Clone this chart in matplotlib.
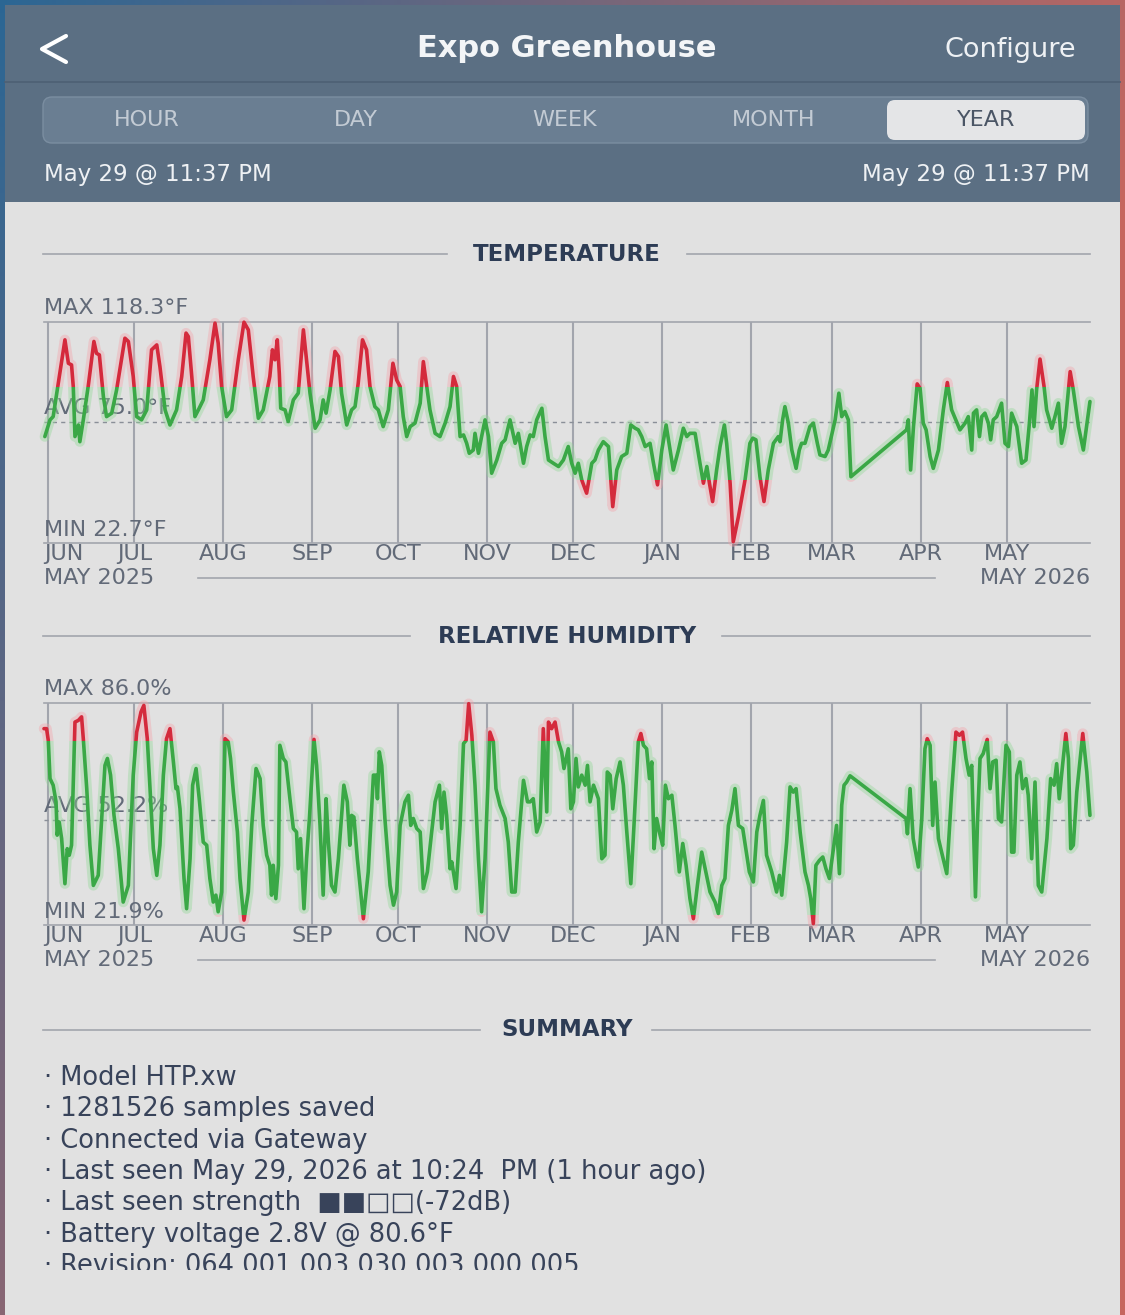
import numpy as np
import matplotlib
matplotlib.use("Agg")
import matplotlib.pyplot as plt
from matplotlib.patches import Rectangle, FancyBboxPatch
from matplotlib.transforms import Bbox, TransformedBbox

W, H = 1125, 1315
plt.rcParams["font.family"] = ["DejaVu Sans"]

# ---- data (x = days after May 29 2025) ----
MONTHS = ["JUN", "JUL", "AUG", "SEP", "OCT", "NOV", "DEC", "JAN", "FEB", "MAR", "APR", "MAY"]
MONTH_DAY = [3, 33, 64, 95, 125, 156, 186, 217, 248, 276, 307, 337]
X_RANGE = (1.4, 366.05)
START_LBL, END_LBL = "MAY 2025", "MAY 2026"

temp_day = [1.8, 3.6, 4.7, 8.8, 10.0, 11.1, 11.7, 12.3, 13.5, 14.0, 15.2, 16.9, 18.9, 19.8, 20.8,
            22.2, 23.3, 25.1, 26.8, 29.7, 30.9, 32.6, 33.8, 35.5, 37.3, 39.0, 40.8, 41.9, 43.7, 45.4,
            47.7, 49.5, 51.0, 51.8, 53.0, 54.1, 55.3, 57.0, 59.3, 61.1, 62.2, 63.4, 65.1, 66.9, 69.2,
            71.2, 72.7, 74.4, 76.2, 77.9, 80.2, 81.1, 82.0, 82.8, 83.5, 84.0, 85.5, 86.6, 88.4, 90.1,
            91.9, 93.0, 94.2, 96.0, 97.7, 98.8, 99.8, 101.2, 102.9, 104.1, 105.2, 107.0, 108.7, 109.9,
            111.0, 112.5, 113.9, 115.1, 116.8, 118.0, 119.7, 121.5, 123.1,
            124.4, 125.6, 126.7, 127.9, 129.1, 130.8, 132.6, 133.7, 134.9, 136.0, 137.8, 139.5, 141.3,
            143.0, 144.2, 145.3, 146.5, 147.7, 148.8, 149.7, 151.1, 151.7, 152.9, 154.0, 155.2, 156.4,
            157.5, 159.3, 161.0, 162.2, 163.9, 165.7, 166.8, 168.6, 169.7, 170.9, 172.0, 173.2, 175.0,
            176.1, 177.3, 179.0, 180.8, 182.5, 184.2, 185.4, 186.6, 187.7, 188.9, 190.6, 192.4, 193.5,
            194.7, 196.4, 198.2, 199.7, 201.1, 202.8, 204.6, 206.0, 207.5, 208.6, 209.8, 211.0, 212.7,
            213.9, 215.3, 216.8, 218.3, 219.7, 220.8, 222.6, 224.3, 225.5, 226.6, 228.4, 230.1, 231.3,
            232.5, 233.4, 234.5, 235.9, 237.1, 238.6, 239.4, 240.6, 241.7, 243.5,
            245.8, 247.5, 248.5, 249.6, 251.0, 252.4, 253.9, 255.7, 257.4, 258.0, 258.9, 259.7, 260.9,
            262.1, 263.6, 264.7, 265.5, 266.7, 268.4, 269.6, 271.0, 271.9, 273.7, 274.8, 277.2, 278.5,
            279.5, 280.6, 281.8, 282.7, 302.1, 302.7, 303.5, 304.5, 305.8, 306.8, 307.9, 308.9, 310.3,
            311.4, 313.2, 314.9, 316.3, 317.8, 320.7, 322.5, 323.6, 324.8, 325.4, 326.5, 327.5, 328.3,
            329.4, 330.6, 331.4, 332.3, 333.5, 335.2, 336.4, 337.6, 338.7, 340.5, 342.2, 343.7, 344.9,
            345.8, 346.5, 347.4, 348.6, 350.0, 350.9, 352.7, 353.8, 355.0, 356.1, 357.3, 359.1, 360.2,
            362.0, 363.7, 366.0]
temp_f = [68.7, 75.9, 77.3, 110.4, 100.3, 99.6, 90.3, 68.7, 73.7, 66.5, 75.9, 90.3, 109.7, 104.6, 103.9,
          85.9, 77.3, 78.8, 88.8, 111.1, 109.7, 94.6, 77.3, 75.9, 80.2, 106.1, 108.2, 98.9, 80.2, 73.7,
          80.2, 94.6, 113.3, 111.8, 94.6, 77.3, 80.2, 84.5, 101.8, 117.6, 109.0, 90.3, 77.3, 80.2, 101.8,
          118.0, 114.7, 94.6, 76.6, 80.2, 94.6, 106.1, 101.8, 110.4, 96.0, 80.9, 80.2, 75.2, 84.5, 87.4,
          114.7, 101.8, 87.4, 72.3, 75.9, 84.5, 78.8, 88.8, 105.4, 103.2, 87.4, 73.7, 80.2, 81.6,
          91.7, 110.4, 106.1, 90.3, 81.6, 80.2, 73.0, 80.2, 100.3,
          93.1, 90.3, 77.3, 68.7, 73.0, 74.5, 83.1, 101.0, 90.3, 80.2, 70.1, 68.7, 74.5,
          81.6, 94.6, 90.3, 68.7, 69.4, 65.8, 61.5, 62.9, 70.1, 61.5, 68.7, 75.9, 68.7,
          52.9, 58.6, 65.8, 67.3, 75.9, 65.8, 70.1, 57.2, 64.4, 69.4, 68.7, 75.9, 80.9,
          68.7, 58.6, 57.2, 55.8, 58.6, 64.4, 57.2, 52.9, 57.2, 50.0, 44.3, 57.2, 58.6,
          62.9, 66.5, 64.4, 38.5, 54.3, 60.1, 61.5, 73.7, 72.3, 71.6, 68.7, 64.4, 65.8,
          57.2, 47.9, 62.9, 73.7, 62.9, 54.3, 62.9, 72.3, 68.7, 70.1, 70.1, 57.2, 48.6,
          55.8, 48.6, 40.7, 54.3, 64.4, 73.7, 65.8, 48.6, 23.4, 34.2,
          50.0, 65.8, 68.0, 67.3, 51.4, 40.7, 54.3, 65.8, 68.7, 66.5, 75.9, 81.6, 74.5,
          62.9, 55.0, 62.9, 65.8, 65.8, 73.0, 74.5, 65.8, 60.8, 60.1, 62.9, 75.9, 87.4,
          77.3, 79.5, 75.9, 51.4, 71.6, 75.9, 54.3, 73.0, 91.4, 89.5, 74.5, 71.6, 60.1,
          55.0, 62.9, 80.2, 92.0, 80.2, 71.6, 74.5, 77.3, 62.9, 78.8, 80.2, 68.7, 77.3,
          78.8, 74.5, 67.3, 75.9, 77.3, 83.1, 65.8, 64.4, 78.8, 73.0, 57.2, 58.6, 74.5,
          88.8, 73.0, 88.8, 102.1, 90.3, 80.2, 72.3, 77.3, 83.1, 65.8, 73.0, 96.7, 88.8,
          73.0, 62.9, 83.8]
TEMP_MIN, TEMP_AVG, TEMP_MAX = 22.7, 75.0, 118.3
TEMP_LO, TEMP_HI = 50, 90

hum_day = [1.5, 2.4, 3.0, 3.6, 4.7, 5.7, 6.1, 6.8, 7.65, 8.8, 9.6, 10.3, 11.1, 12.3, 13.5,
           14.6, 15.2, 16.4, 17.5, 18.7, 20.4, 21.6, 22.75, 23.6, 24.7, 25.9, 27.4, 29.1, 30.9, 32.6,
           33.8, 35.3, 36.3, 37.5, 38.7, 39.6, 40.8, 41.9, 43.1, 44.2, 45.4, 46.6, 47.5, 48.0, 48.9,
           50.3, 51.2, 52.4, 53.3, 54.5, 55.6, 57.0, 58.2, 59.3, 60.5, 61.4, 62.2, 63.4, 64.6, 65.7,
           66.5, 67.5, 68.9, 69.8, 71.2, 72.7, 73.9, 75.4, 76.8, 77.9, 79.1, 80.2, 80.8, 81.4, 82.3,
           83.2, 83.7, 84.9, 85.8, 87.2, 88.4, 89.5, 90.1, 90.9, 92.1, 93.0, 94.0, 95.6, 96.5, 97.7,
           98.8, 99.8, 100.6, 101.7, 102.9, 104.1, 106.0, 107.2, 108.1, 108.7, 109.5, 110.7, 112.8,
           114.5, 116.3, 117.2, 117.7, 118.35, 119.2, 120.3, 122.1,
           123.3, 124.4, 125.6, 127.3, 128.5, 129.3, 130.2, 131.4, 132.6, 133.7, 135.1, 136.6, 137.8,
           139.3, 140.1, 140.9, 141.8, 143.0, 143.6, 145.1, 146.5, 147.7, 148.6, 149.5, 150.6, 151.7,
           152.9, 154.0, 155.2, 156.9, 158.1, 159.0, 160.4, 162.2, 163.3, 164.5, 165.7, 166.8, 168.6,
           170.0, 170.9, 172.0, 173.2, 174.4, 175.5, 176.7, 177.3, 178.4, 179.6, 180.8, 181.9, 182.7,
           184.2, 185.1, 186.0, 186.9, 187.7, 188.9, 190.1, 190.9, 191.8, 193.0, 194.7, 195.9, 197.0,
           197.8, 198.8, 199.7, 200.9, 202.25, 203.4, 204.6, 206.0, 207.1, 208.6, 209.5, 210.4, 211.5,
           212.5, 213.3, 214.1, 215.0, 216.2, 217.1, 218.05, 219.1, 220.3, 221.4, 222.9, 224.1, 225.25,
           226.6, 227.8, 229.2, 230.7, 231.9, 233.6, 235.35, 236.5, 237.7, 238.8, 240.0, 241.2, 242.3,
           243.5, 245.0, 247.3,
           248.7, 249.9, 251.0, 252.2, 253.3, 255.1, 256.8, 257.8, 258.6, 260.3, 261.5, 262.6, 263.6,
           265.0, 266.7, 267.9, 268.7, 269.6, 270.5, 271.7, 272.9, 274.0, 275.2, 276.6, 277.7, 278.7,
           279.5, 280.3, 281.2, 282.4, 301.9, 302.4, 303.3, 304.4, 306.2, 307.4, 308.5, 309.3, 310.3,
           311.2, 312.0, 313.2, 314.3, 316.1, 317.8, 319.3, 320.5, 321.6, 322.8, 323.9, 324.8, 326.1,
           326.8, 327.7, 328.8, 330.2, 331.2, 332.1, 333.3, 334.1, 335.2, 336.75, 337.9, 338.7, 339.5,
           340.5, 341.6, 342.55, 343.7, 344.5, 345.7, 346.85, 348.0, 349.2, 351.0, 352.3, 353.5, 354.4,
           355.3, 356.1, 357.6, 358.5, 359.3, 360.2, 361.4, 363.5, 364.9, 366.0]
hum_pct = [78.6, 78.6, 75.2, 64.2, 62.3, 57.5, 47.9, 51.7, 46.9, 33.9, 44.0, 42.1, 45.0, 80.5, 81.0,
           82.0, 75.7, 61.3, 45.0, 33.4, 36.3, 52.7, 68.0, 70.0, 65.2, 53.6, 44.0, 28.6, 33.4, 65.2,
           77.6, 83.4, 85.3, 75.7, 57.5, 44.0, 36.3, 45.0, 65.2, 75.7, 78.6, 69.0, 61.3, 61.8, 55.5,
           35.4, 26.7, 41.1, 62.3, 67.1, 58.4, 45.9, 45.0, 35.4, 28.6, 30.6, 25.8, 31.5, 75.7, 74.8,
           70.0, 60.3, 48.8, 35.4, 23.4, 31.5, 50.7, 67.1, 64.2, 50.7, 42.1, 39.2, 30.6, 39.2, 29.6,
           39.2, 73.8, 70.0, 69.0, 58.4, 49.8, 48.8, 38.2, 46.9, 26.7, 41.1, 52.7, 75.5, 68.0, 50.7,
           30.6, 58.4, 45.9, 33.4, 31.5, 41.1, 62.3, 57.5, 45.0, 53.6, 53.1, 41.1, 23.8,
           37.3, 65.2, 65.2, 58.4, 71.9, 68.0, 52.7, 33.4,
           27.7, 31.5, 50.7, 57.5, 59.4, 50.7, 52.7, 49.8, 48.8, 32.5, 37.3, 48.8, 57.5,
           62.3, 49.8, 60.3, 53.6, 38.2, 40.2, 32.5, 50.7, 74.3, 75.2, 85.8, 76.7, 62.3,
           41.1, 25.8, 41.1, 77.6, 74.8, 61.3, 56.5, 52.7, 45.9, 31.5, 31.5, 45.9, 63.7,
           57.5, 57.5, 58.4, 48.8, 51.7, 78.6, 54.6, 80.5, 78.6, 80.5, 74.8, 71.9, 67.1,
           72.8, 55.5, 57.5, 70.0, 61.8, 65.2, 62.3, 68.0, 57.5, 62.3, 58.4, 41.1, 42.1,
           66.1, 65.2, 55.5, 64.2, 69.0, 62.3, 48.8, 33.9, 50.7, 74.8, 77.2, 73.8, 72.8,
           64.2, 69.0, 44.0, 52.7, 47.9, 45.0, 62.3, 58.4, 59.4, 50.7, 37.3, 45.5, 39.2,
           29.6, 23.8, 33.4, 43.0, 38.2, 31.5, 28.6, 25.3, 33.4, 35.4, 50.7, 55.1, 61.3,
           50.7, 49.8, 37.3,
           34.4, 48.8, 53.6, 57.9, 42.1, 37.3, 31.5, 36.3, 30.6, 45.9, 61.8, 60.3, 61.3,
           48.8, 37.3, 33.4, 29.6, 22.4, 39.2, 40.6, 41.6, 38.2, 35.4, 44.0, 50.7, 36.8,
           56.5, 62.3, 63.2, 65.0, 52.7, 48.3, 61.3, 46.9, 38.7, 52.7, 72.8, 75.7, 73.8,
           50.7, 63.2, 46.9, 43.0, 36.8, 60.3, 77.6, 76.7, 77.6, 70.0, 65.2, 68.0, 30.1,
           51.7, 70.0, 71.4, 75.5, 61.3, 69.0, 69.5, 52.7, 51.7, 73.8, 71.9, 43.0, 43.0,
           65.2, 69.0, 61.3, 64.2, 59.4, 41.1, 63.2, 33.4, 31.5, 46.9, 64.2, 62.3, 68.5,
           58.4, 65.2, 77.2, 70.0, 44.0, 45.0, 60.3, 77.2, 66.1, 53.6]
HUM_MIN, HUM_AVG, HUM_MAX = 21.9, 52.2, 86.0
HUM_LO, HUM_HI = 25, 75

TABS = ["HOUR", "DAY", "WEEK", "MONTH", "YEAR"]
SUMMARY = ["· Model HTP.xw",
           "· 1281526 samples saved",
           "· Connected via Gateway",
           "· Last seen May 29, 2026 at 10:24  PM (1 hour ago)",
           "· Last seen strength  ■■□□(-72dB)",
           "· Battery voltage 2.8V @ 80.6°F",
           "· Revision: 064.001.003.030.003.000.005"]

# ---- style ----
HEADER, SEG_BG, SEG_EDGE, SEL_BG = "#5b6f83", "#6a7e92", "#7b8ea1", "#e4e5e7"
BODY, GRID, LBL, TITLE, SUMTXT = "#e1e1e1", "#a2a5ad", "#626a78", "#2d3c55", "#38435a"
GREEN, GREEN_GLOW, RED, RED_GLOW = "#3aa846", "#93d898", "#d42a3c", "#f3a3aa"
PX = 0.72  # px -> pt at dpi 100

fig = plt.figure(figsize=(W / 100, H / 100), dpi=100)
ov = fig.add_axes([0, 0, 1, 1])
ov.set_xlim(0, W); ov.set_ylim(H, 0); ov.axis("off")

# outer gradient frame
gx, gy = np.linspace(0, 1, 300), np.linspace(0, 1, 300)
t = np.clip(0.9 * gx[None, :] + 0.6 * gy[:, None], 0, 1)[..., None]
blue, red = np.array([0.17, 0.40, 0.58]), np.array([0.78, 0.40, 0.37])
ov.imshow(blue * (1 - t) + red * t, extent=(0, W, H, 0), aspect="auto", zorder=0)
ov.add_patch(Rectangle((5, 5), W - 10, 197, fc=HEADER, ec="none", zorder=1))
ov.add_patch(Rectangle((5, 202), W - 10, H - 202, fc=BODY, ec="none", zorder=1))
ov.plot([5, W - 5], [82, 82], color="#4d6074", lw=1.2, zorder=2)

# nav bar
ov.plot([66, 42, 66], [36, 49, 62], color="white", lw=3, solid_capstyle="round",
        solid_joinstyle="round", zorder=3)
ov.text(567, 48, "Expo Greenhouse", ha="center", va="center", color="#f3f5f7",
        fontsize=22, fontweight="bold", zorder=3)
ov.text(1076, 50, "Configure", ha="right", va="center", color="#eef1f4", fontsize=19.5, zorder=3)

# tabs
ov.add_patch(FancyBboxPatch((43, 97), 1045, 46, boxstyle="round,pad=0,rounding_size=9",
                            fc=SEG_BG, ec=SEG_EDGE, lw=1, zorder=2))
ov.add_patch(FancyBboxPatch((887, 100), 198, 40, boxstyle="round,pad=0,rounding_size=8",
                            fc=SEL_BG, ec="none", zorder=3))
for lab, cx in zip(TABS, [147, 356, 565, 774, 986]):
    ov.text(cx, 120, lab, ha="center", va="center", fontsize=16, zorder=4,
            color="#4a5565" if lab == "YEAR" else "#c3cbd4")
ov.text(44, 174, "May 29 @ 11:37 PM", ha="left", va="center", color="#eef1f4", fontsize=16.5, zorder=3)
ov.text(1090, 174, "May 29 @ 11:37 PM", ha="right", va="center", color="#eef1f4", fontsize=16.5, zorder=3)


def section_title(y, text, gap_l, gap_r):
    ov.plot([43, gap_l], [y, y], color=GRID, lw=1.2, zorder=2)
    ov.plot([gap_r, 1090], [y, y], color=GRID, lw=1.2, zorder=2)
    ov.text(567, y, text, ha="center", va="center", color=TITLE, fontsize=16.5,
            fontweight="bold", zorder=3)


def chart(top, bottom, days, vals, vmin, vavg, vmax, lo, hi, unit, yr_y):
    left, right = 43.7, 1090.1
    ax = fig.add_axes([left / W, 1 - bottom / H, (right - left) / W, (bottom - top) / H])
    ax.set_xlim(*X_RANGE); ax.set_ylim(vmin, vmax); ax.axis("off")
    for d in MONTH_DAY:
        ax.axvline(d, color=GRID, lw=1.5, zorder=1)
    for v in (vmin, vmax):
        ax.axhline(v, color=GRID, lw=1.2, zorder=1, clip_on=False)
    ax.axhline(vavg, color="#8a8f98", lw=1, ls=(0, (3, 3)), zorder=2)

    kw = dict(textcoords="offset points", va="center", color=LBL, fontsize=16,
              annotation_clip=False, zorder=3)
    ax.annotate(f"MAX {vmax:.1f}{unit}", xy=(X_RANGE[0], vmax), xytext=(0, 14 * PX), **kw)
    ax.annotate(f"AVG {vavg:.1f}{unit}", xy=(X_RANGE[0], vavg), xytext=(0, 14 * PX), **kw)
    ax.annotate(f"MIN {vmin:.1f}{unit}", xy=(X_RANGE[0], vmin), xytext=(0, 13 * PX), **kw)
    for i, (m, d) in enumerate(zip(MONTHS, MONTH_DAY)):
        x = X_RANGE[0] if i == 0 else d
        ax.annotate(m, xy=(x, vmin), xytext=(0, -11 * PX), ha="left" if i == 0 else "center", **kw)
    ax.annotate(START_LBL, xy=(X_RANGE[0], vmin), xytext=(0, -35 * PX), ha="left", **kw)
    ax.annotate(END_LBL, xy=(X_RANGE[1], vmin), xytext=(0, -35 * PX), ha="right", **kw)
    ov.plot([198, 935], [yr_y, yr_y], color=GRID, lw=1.2, zorder=2)

    # series: green inside [lo, hi], red outside
    span = X_RANGE[1] - X_RANGE[0]
    for y0, y1, c, g in [(lo, hi, GREEN, GREEN_GLOW), (hi, vmax + 100, RED, RED_GLOW),
                         (vmin - 100, lo, RED, RED_GLOW)]:
        for lw, col, a in [(7.5, g, 0.4), (2.6, c, 1.0)]:
            clip = Rectangle((X_RANGE[0] - 5, y0), span + 10, y1 - y0, transform=ax.transData)
            ln, = ax.plot(days, vals, color=col, lw=lw, alpha=a, solid_joinstyle="round",
                          solid_capstyle="round", zorder=4)
            ln.set_clip_path(clip)
    return ax


section_title(254, "TEMPERATURE", 447, 687)
chart(321.5, 543.3, temp_day, temp_f, TEMP_MIN, TEMP_AVG, TEMP_MAX, TEMP_LO, TEMP_HI, "°F", 578)
section_title(636, "RELATIVE HUMIDITY", 410, 722)
chart(703.0, 925.3, hum_day, hum_pct, HUM_MIN, HUM_AVG, HUM_MAX, HUM_LO, HUM_HI, "%", 960)
section_title(1030, "SUMMARY", 480, 652)

clipbox = TransformedBbox(Bbox([[0, 0], [W, 1270]]), ov.transData)
for i, line in enumerate(SUMMARY):
    txt = ov.text(44, 1078 + i * 31.3, line, ha="left", va="center", color=SUMTXT,
                  fontsize=18.5, zorder=3)
    txt.set_clip_box(clipbox)
    txt.set_clip_on(True)

fig.savefig("out.png", dpi=100)
